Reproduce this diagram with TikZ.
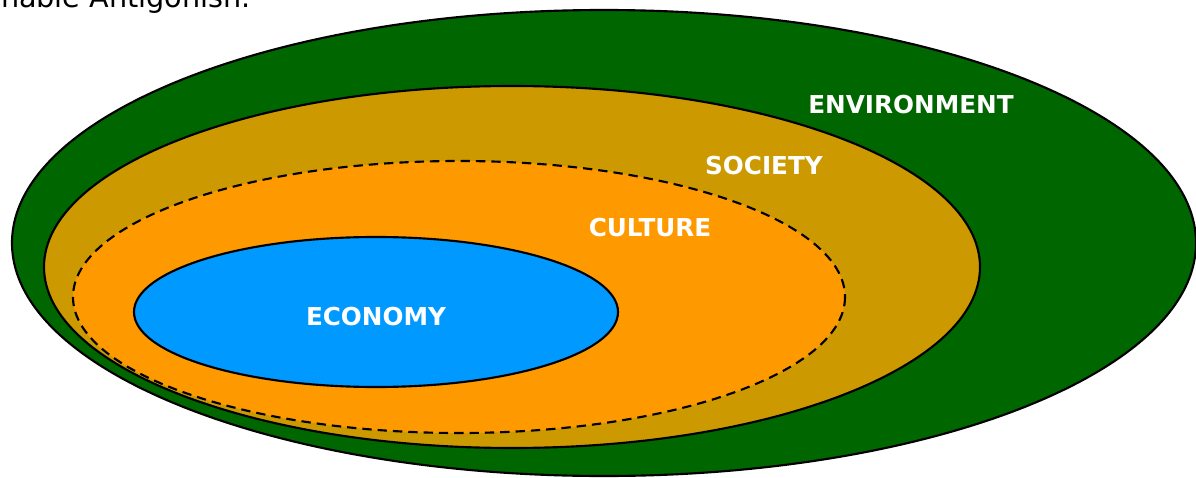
\documentclass[tikz,border=0pt]{standalone}
\usepackage{fontspec}
\setmainfont{DejaVu Sans}
\definecolor{envgreen}{HTML}{006600}
\definecolor{soctan}{HTML}{CC9900}
\definecolor{culorange}{HTML}{FF9900}
\definecolor{ecoblue}{HTML}{0099FF}
\begin{document}
\begin{tikzpicture}[x=0.75pt,y=-0.75pt,
  ring/.style={draw=black,line width=1.6pt},
  lbl/.style={text=white,font=\fontsize{18.5}{22}\selectfont\bfseries,inner sep=0pt}]
\useasboundingbox (0,0) rectangle (1196,478);
\clip (0,0) rectangle (1196,478);
\fill[white] (0,0) rectangle (1196,478);
\node[anchor=base east,inner sep=0pt,font=\fontsize{21.5}{24}\selectfont] (title) at (251,8) {nable Antigonish.};
\draw[ring,fill=envgreen] (604,243) ellipse [x radius=592,y radius=233];
\draw[ring,fill=soctan] (512,267) ellipse [x radius=468,y radius=181];
\draw[ring,fill=culorange,dash pattern=on 7pt off 4.5pt] (459,297) ellipse [x radius=386,y radius=136];
\draw[ring,fill=ecoblue] (376,312) ellipse [x radius=242,y radius=75];
\node[lbl] (env) at (911,105) {ENVIRONMENT};
\node[lbl] (soc) at (764,166) {SOCIETY};
\node[lbl] (cul) at (650,228) {CULTURE};
\node[lbl] (eco) at (376,317) {ECONOMY};
\end{tikzpicture}
\end{document}
